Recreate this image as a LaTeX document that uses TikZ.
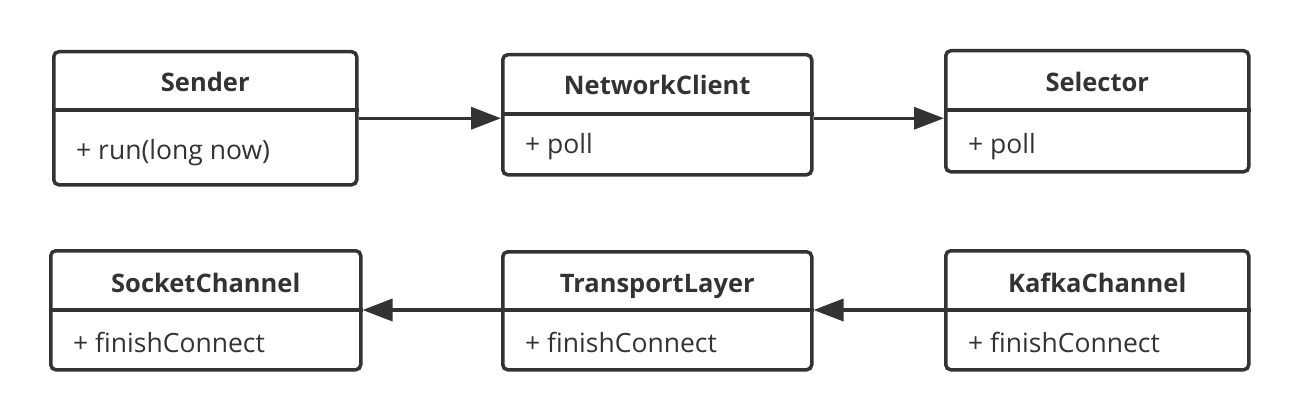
\documentclass[tikz,border=0pt]{standalone}
\usepackage{fontspec}
\setmainfont{Open Sans}
\usetikzlibrary{arrows.meta, positioning}
\definecolor{umlgray}{HTML}{333333}

\begin{document}
\begin{tikzpicture}[x=1pt, y=-1pt,
    classbox/.style={draw=umlgray, line width=3.5pt, rounded corners=5pt, anchor=north west, inner sep=0pt},
    classhead/.style={anchor=base, inner sep=0pt, text=umlgray, font=\fontsize{25.5}{30}\selectfont\bfseries},
    member/.style={anchor=base west, inner sep=0pt, text=umlgray, font=\fontsize{26.5}{31}\selectfont},
    divider/.style={draw=umlgray, line width=3.5pt},
    dep/.style={draw=umlgray, line width=3.5pt, -{Triangle[length=30pt, width=22pt]}}]
    \useasboundingbox (0,0) rectangle (1295,420);

    % Top row
    \node[classbox, minimum width=303pt, minimum height=133pt] (sender) at (52,50) {};
    \node[classhead] (senderT) at ([yshift=-42pt]sender.north) {Sender};
    \draw[divider] ([yshift=-60pt]sender.north west) -- ([yshift=-60pt]sender.north east);
    \node[member] (senderM) at ([xshift=24pt, yshift=-109pt]sender.north west) {+ run(long now)};

    \node[classbox, minimum width=309pt, minimum height=120pt] (nc) at (501,53) {};
    \node[classhead] (ncT) at ([yshift=-41pt]nc.north) {NetworkClient};
    \draw[divider] ([yshift=-61pt]nc.north west) -- ([yshift=-61pt]nc.north east);
    \node[member] (ncM) at ([xshift=24pt, yshift=-100pt]nc.north west) {+ poll};

    \node[classbox, minimum width=303pt, minimum height=121pt] (sel) at (944,49) {};
    \node[classhead] (selT) at ([yshift=-43pt]sel.north) {Selector};
    \draw[divider] ([yshift=-61pt]sel.north west) -- ([yshift=-61pt]sel.north east);
    \node[member] (selM) at ([xshift=24pt, yshift=-104pt]sel.north west) {+ poll};

    % Bottom row
    \node[classbox, minimum width=310pt, minimum height=119pt] (sc) at (49,249) {};
    \node[classhead] (scT) at ([yshift=-43pt]sc.north) {SocketChannel};
    \draw[divider] ([yshift=-61pt]sc.north west) -- ([yshift=-61pt]sc.north east);
    \node[member] (scM) at ([xshift=24pt, yshift=-103pt]sc.north west) {+ finishConnect};

    \node[classbox, minimum width=309pt, minimum height=118pt] (tl) at (501,250) {};
    \node[classhead] (tlT) at ([yshift=-42pt]tl.north) {TransportLayer};
    \draw[divider] ([yshift=-60pt]tl.north west) -- ([yshift=-60pt]tl.north east);
    \node[member] (tlM) at ([xshift=24pt, yshift=-102pt]tl.north west) {+ finishConnect};

    \node[classbox, minimum width=303pt, minimum height=119pt] (kc) at (944,249) {};
    \node[classhead] (kcT) at ([yshift=-43pt]kc.north) {KafkaChannel};
    \draw[divider] ([yshift=-61pt]kc.north west) -- ([yshift=-61pt]kc.north east);
    \node[member] (kcM) at ([xshift=24pt, yshift=-103pt]kc.north west) {+ finishConnect};

    % Calls
    \draw[dep] (sender.east) -- (sender.east -| nc.west);
    \draw[dep] (nc.east |- sender.east) -- (sender.east -| sel.west);
    \draw[dep] ([yshift=-61pt]kc.north west) -- ([yshift=-61pt]kc.north west -| tl.east);
    \draw[dep] ([yshift=-60pt]tl.north west) -- ([yshift=-60pt]tl.north west -| sc.east);
\end{tikzpicture}
\end{document}
